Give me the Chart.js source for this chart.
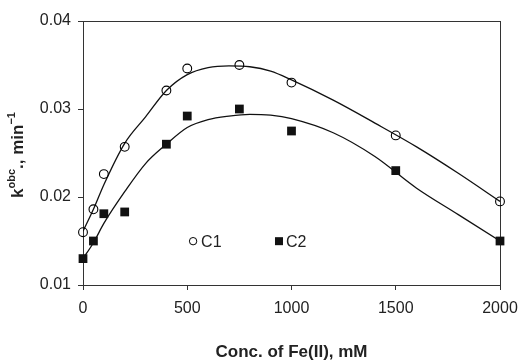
<!DOCTYPE html>
<html>
<head>
<meta charset="utf-8">
<script src="https://cdn.jsdelivr.net/npm/chart.js@4.4.1/dist/chart.umd.min.js"></script>
<style>
  html, body { margin: 0; padding: 0; background: #fff; }
  #wrap { width: 529px; height: 363px; }
</style>
</head>
<body>
<div id="wrap"><canvas id="kChart"></canvas></div>
<script>
// measured points
const conc = [0, 50, 100, 200, 400, 500, 750, 1000, 1500, 2000];
const kC1 = [0.0160, 0.0186, 0.0226, 0.0257, 0.0321, 0.0346, 0.0350, 0.0330, 0.0270, 0.0195];
const kC2 = [0.0130, 0.0150, 0.0181, 0.0183, 0.0260, 0.0292, 0.0300, 0.0275, 0.0230, 0.0150];

// fitted curves
const fitConc = [0, 50, 100, 200, 300, 400, 500, 600, 700, 800, 900, 1000, 1200, 1400, 1600, 1800, 2000];
const fitC1 = [0.0161, 0.0186, 0.0214, 0.0261, 0.0291, 0.0321, 0.0339, 0.0347, 0.0349, 0.0348, 0.0343, 0.0333, 0.0310, 0.0284, 0.0257, 0.0227, 0.0195];
const fitC2 = [0.0130, 0.0148, 0.0170, 0.0206, 0.0238, 0.0260, 0.0279, 0.0288, 0.0292, 0.0294, 0.0293, 0.0289, 0.0273, 0.0246, 0.0210, 0.0180, 0.0150];

const xTicks = [0, 500, 1000, 1500, 2000];
const yTicks = [0.01, 0.02, 0.03, 0.04];
const seriesNames = ['C1', 'C2'];

const toXY = (xs, ys) => xs.map((x, i) => ({x: x, y: ys[i]}));

const axisColor = '#333';
const textColor = '#222';
const fontFam = '"Liberation Sans", Arial, sans-serif';

// frame round the plot area
const framePlugin = {
  id: 'frame',
  beforeDatasetsDraw(chart) {
    const a = chart.chartArea;
    const ctx = chart.ctx;
    ctx.save();
    ctx.strokeStyle = axisColor;
    ctx.lineWidth = 1;
    ctx.strokeRect(Math.round(a.left) + 0.5, Math.round(a.top) + 0.5,
      Math.round(a.right - a.left), Math.round(a.bottom - a.top));
    ctx.restore();
  }
};

// y title with superscripts
const yTitlePlugin = {
  id: 'yTitle',
  afterDraw(chart) {
    const a = chart.chartArea;
    const ctx = chart.ctx;
    const parts = [
      {t: 'k', size: 17, rise: 0},
      {t: 'obc', size: 11, rise: 6},
      {t: '., min', size: 17, rise: 0},
      {t: '\u22121', size: 11, rise: 6}
    ];
    ctx.save();
    let total = 0;
    parts.forEach(p => {
      ctx.font = 'bold ' + p.size + 'px ' + fontFam;
      p.w = ctx.measureText(p.t).width;
      total += p.w;
    });
    ctx.translate(18, (a.top + a.bottom) / 2 + 2);
    ctx.rotate(-Math.PI / 2);
    ctx.fillStyle = textColor;
    ctx.textBaseline = 'middle';
    let x = -total / 2;
    parts.forEach(p => {
      ctx.font = 'bold ' + p.size + 'px ' + fontFam;
      ctx.fillText(p.t, x, -p.rise);
      x += p.w;
    });
    ctx.restore();
  }
};

// legend inside the plot
const legendPlugin = {
  id: 'innerLegend',
  afterDraw(chart) {
    const a = chart.chartArea;
    const ctx = chart.ctx;
    const y = a.top + (a.bottom - a.top) * 0.834;
    const x1 = a.left + (a.right - a.left) * 0.264;
    const x2 = a.left + (a.right - a.left) * 0.470;
    ctx.save();
    ctx.strokeStyle = '#000';
    ctx.fillStyle = '#111';
    ctx.lineWidth = 1;
    ctx.beginPath();
    ctx.arc(x1, y, 3.7, 0, Math.PI * 2);
    ctx.stroke();
    ctx.fillRect(x2 - 4, y - 4, 8, 8);
    ctx.font = '16px ' + fontFam;
    ctx.fillStyle = textColor;
    ctx.textBaseline = 'middle';
    ctx.fillText(seriesNames[0], x1 + 8, y + 1);
    ctx.fillText(seriesNames[1], x2 + 7, y + 1);
    ctx.restore();
  }
};

const ctx = document.getElementById('kChart');

new Chart(ctx, {
  type: 'scatter',
  data: {
    datasets: [
      {
        label: seriesNames[0],
        data: toXY(conc, kC1),
        pointStyle: 'circle',
        pointRadius: 4.4,
        pointBorderWidth: 1.1,
        borderColor: '#000',
        backgroundColor: 'rgba(0,0,0,0)',
        clip: false,
        order: 1
      },
      {
        label: seriesNames[1],
        data: toXY(conc, kC2),
        pointStyle: 'rect',
        pointRadius: 6.2,
        pointBorderWidth: 0,
        borderColor: '#000',
        backgroundColor: '#111',
        clip: false,
        order: 1
      },
      {
        label: 'fit C1',
        data: toXY(fitConc, fitC1),
        showLine: true,
        pointRadius: 0,
        borderColor: '#111',
        borderWidth: 1.3,
        cubicInterpolationMode: 'monotone',
        order: 2
      },
      {
        label: 'fit C2',
        data: toXY(fitConc, fitC2),
        showLine: true,
        pointRadius: 0,
        borderColor: '#111',
        borderWidth: 1.3,
        cubicInterpolationMode: 'monotone',
        order: 2
      }
    ]
  },
  options: {
    responsive: true,
    maintainAspectRatio: false,
    animation: false,
    layout: { padding: { top: 21, right: 29, left: 0, bottom: 0 } },
    plugins: {
      legend: { display: false },
      tooltip: { enabled: false }
    },
    scales: {
      x: {
        type: 'linear',
        min: 0,
        max: 2000,
        afterFit(scale) { scale.height = 78; },
        afterBuildTicks(scale) { scale.ticks = xTicks.map(v => ({value: v})); },
        grid: { drawOnChartArea: false, drawTicks: true, tickLength: 5, color: axisColor },
        border: { display: true, color: axisColor, width: 1 },
        ticks: {
          color: textColor,
          padding: 9,
          maxRotation: 0,
          font: { family: fontFam, size: 16 },
          callback: v => String(v)
        },
        title: {
          display: true,
          text: 'Conc. of Fe(II), mM',
          color: textColor,
          font: { family: fontFam, size: 17, weight: 'bold' },
          padding: { top: 28, bottom: 0 }
        }
      },
      y: {
        type: 'linear',
        min: 0.01,
        max: 0.04,
        afterFit(scale) { scale.width = 83; },
        afterBuildTicks(scale) { scale.ticks = yTicks.map(v => ({value: v})); },
        grid: { drawOnChartArea: false, drawTicks: true, tickLength: 5, color: axisColor },
        border: { display: true, color: axisColor, width: 1 },
        ticks: {
          color: textColor,
          padding: 7,
          font: { family: fontFam, size: 16 },
          callback: v => Number(v).toFixed(2)
        }
      }
    }
  },
  plugins: [framePlugin, yTitlePlugin, legendPlugin]
});
</script>
</body>
</html>
